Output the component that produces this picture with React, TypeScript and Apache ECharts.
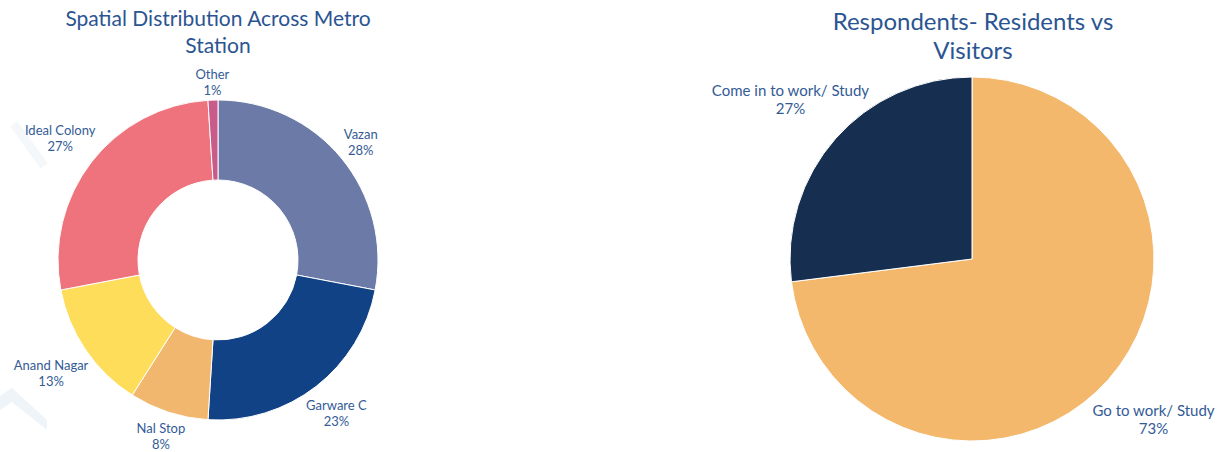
import React, { useEffect, useRef } from "react";
import * as echarts from "echarts";

const stationNames = ["Vazan", "Garware C", "Nal Stop", "Anand Nagar", "Ideal Colony", "Other"];
const stationShares = [28, 23, 8, 13, 27, 1];
const stationColors = ["#6c7aa8", "#124286", "#f2b76e", "#fedd5b", "#ee737c", "#c95b8a"];

const purposeNames = ["Go to work/ Study", "Come in to work/ Study"];
const purposeShares = [73, 27];
const purposeColors = ["#f3b86c", "#162f50"];

const FONT = "Lato, 'Noto Sans', sans-serif";
const TITLE_COLOR = "#2b5592";
const LABEL_COLOR = "#335b96";

function midAngle(values: number[], i: number) {
  const total = values.reduce((a, b) => a + b, 0);
  let cum = 0;
  for (let k = 0; k < i; k++) cum += values[k];
  return ((cum + values[i] / 2) / total) * Math.PI * 2;
}

export default function App() {
  const ref = useRef<HTMLDivElement>(null);
  useEffect(() => {
    document.body.style.margin = "0";
    if (!ref.current) return;
    const chart = echarts.init(ref.current, null, { renderer: "svg" });

    const lc = [218, 260];
    const lR = 160;
    const rc = [972, 259];
    const rR = 182;

    chart.setOption({
      animation: false,
      backgroundColor: "#ffffff",
      title: [
        {
          text: "Spatial Distribution Across Metro\nStation",
          left: 218,
          top: 4,
          textAlign: "center",
          padding: 0,
          textStyle: { fontFamily: FONT, fontSize: 21, fontWeight: "normal", color: TITLE_COLOR, lineHeight: 27 },
        },
        {
          text: "Respondents- Residents vs\nVisitors",
          left: 973,
          top: 6,
          textAlign: "center",
          padding: 0,
          textStyle: { fontFamily: FONT, fontSize: 24, fontWeight: "normal", color: TITLE_COLOR, lineHeight: 29 },
        },
      ],
      graphic: [
        {
          type: "polygon",
          silent: true,
          z: -1,
          shape: { points: [[0, 396], [12, 388], [47, 420], [47, 430], [12, 402], [0, 410]] },
          style: { fill: "#eef4f8" },
        },
        {
          type: "line",
          silent: true,
          z: -1,
          shape: { x1: 14, y1: 124, x2: 44, y2: 166 },
          style: { stroke: "#f5f8fb", lineWidth: 9 },
        },
      ],
      series: [
        {
          type: "pie",
          center: lc,
          radius: [80, lR],
          startAngle: 90,
          clockwise: true,
          silent: true,
          itemStyle: { borderColor: "#ffffff", borderWidth: 1 },
          label: {
            show: true,
            position: "inside",
            overflow: "none",
            formatter: "{b}\n{c}%",
            fontFamily: FONT,
            fontSize: 13,
            lineHeight: 16,
            color: LABEL_COLOR,
          },
          labelLine: { show: false },
          labelLayout: (params: any) => {
            const a = midAngle(stationShares, params.dataIndex);
            const ux = Math.sin(a);
            const uy = -Math.cos(a);
            const w = params.labelRect.width;
            const h = params.labelRect.height;
            const ext = Math.abs(ux) * w / 2 + Math.abs(uy) * h / 2;
            const d = lR + 2 + ext;
            return { x: lc[0] + ux * d, y: lc[1] + uy * d, align: "center", verticalAlign: "middle" };
          },
          data: stationNames.map((n, i) => ({ name: n, value: stationShares[i], itemStyle: { color: stationColors[i] } })),
        },
        {
          type: "pie",
          center: rc,
          radius: [0, rR],
          startAngle: 90,
          clockwise: true,
          silent: true,
          itemStyle: { borderColor: "#ffffff", borderWidth: 1 },
          label: {
            show: true,
            position: "inside",
            overflow: "none",
            formatter: "{b}\n{c}%",
            fontFamily: FONT,
            fontSize: 15,
            lineHeight: 18,
            color: LABEL_COLOR,
          },
          labelLine: { show: false },
          labelLayout: (params: any) => {
            const a = midAngle(purposeShares, params.dataIndex);
            const d = 242;
            return { x: rc[0] + Math.sin(a) * d, y: rc[1] - Math.cos(a) * d, align: "center", verticalAlign: "middle" };
          },
          data: purposeNames.map((n, i) => ({ name: n, value: purposeShares[i], itemStyle: { color: purposeColors[i] } })),
        },
      ],
    });
    return () => chart.dispose();
  }, []);
  return <div ref={ref} style={{ width: 1221, height: 452 }} />;
}
